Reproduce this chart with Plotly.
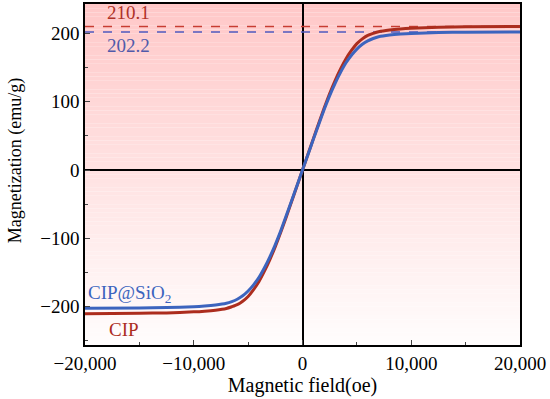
import plotly.graph_objects as go

# Field values (oe) and magnetization (emu/g)
field = [-20000, -15000, -12500, -10000, -9000, -8000, -7000, -6500, -6000, -5500, -5000,
         -4500, -4000, -3500, -3000, -2500, -2000, -1500, -1000, -500, 0,
         500, 1000, 1500, 2000, 2500, 3000, 3500, 4000, 4500, 5000,
         5500, 6000, 6500, 7000, 8000, 9000, 10000, 12500, 15000, 20000]
cip = [-210.1, -209.6, -209, -207.5, -206.5, -205, -202.5, -200, -197, -192, -185,
       -175, -163, -148, -131, -112, -91, -69, -46, -23, 0,
       23, 46, 69, 91, 112, 131, 148, 163, 175, 185,
       192, 197, 200, 202.5, 205, 206.5, 207.5, 209, 209.6, 210.1]
cip_sio2 = [-202.2, -201.8, -201.2, -200, -199, -197.5, -195, -192.5, -189, -184, -177,
            -168, -157, -143, -127, -109, -89, -67, -45, -22.5, 0,
            22.5, 45, 67, 89, 109, 127, 143, 157, 168, 177,
            184, 189, 192.5, 195, 197.5, 199, 200, 201.2, 201.8, 202.2]

ms_cip = 210.1
ms_sio2 = 202.2

x_ticks = [-20000, -10000, 0, 10000, 20000]
x_ticktext = ["\u221220,000", "\u221210,000", "0", "10,000", "20,000"]
y_ticks = [-200, -100, 0, 100, 200]
y_ticktext = ["\u2212200", "\u2212100", "0", "100", "200"]

RED = "rgb(172,45,30)"
BLUE = "rgb(60,100,190)"
FONT = "Liberation Serif"

fig = go.Figure()

# gradient background bands (pink at top fading to white)
n = 80
shapes = []
for i in range(n):
    t = (i + 0.5) / n  # 0 bottom -> 1 top
    g = int(round(253 - 53 * t))
    shapes.append(dict(type="rect", xref="x domain", yref="y domain",
                       x0=0, x1=1, y0=i / n, y1=(i + 1) / n,
                       fillcolor=f"rgb(255,{g},{g})", line=dict(width=0), layer="below"))

fig.add_trace(go.Scatter(x=[field[0], field[-1]], y=[ms_cip, ms_cip], mode="lines",
                         line=dict(color="rgb(200,60,50)", width=1.5, dash="dash"), showlegend=False))
fig.add_trace(go.Scatter(x=[field[0], field[-1]], y=[ms_sio2, ms_sio2], mode="lines",
                         line=dict(color="rgb(80,90,190)", width=1.5, dash="dash"), showlegend=False))
fig.add_trace(go.Scatter(x=field, y=cip, mode="lines", line=dict(color=RED, width=3, shape="spline", smoothing=0.6),
                         showlegend=False))
fig.add_trace(go.Scatter(x=field, y=cip_sio2, mode="lines", line=dict(color=BLUE, width=3, shape="spline", smoothing=0.6),
                         showlegend=False))

annotations = [
    dict(x=-16000, y=ms_cip + 2, text=str(ms_cip), showarrow=False, font=dict(color="rgb(175,50,40)", size=19, family=FONT),
         xanchor="center", yanchor="bottom"),
    dict(x=-16000, y=ms_sio2 - 2, text=str(ms_sio2), showarrow=False, font=dict(color="rgb(80,90,170)", size=19, family=FONT),
         xanchor="center", yanchor="top"),
    dict(x=-20000, y=-202, text="CIP@SiO<sub>2</sub>", showarrow=False, font=dict(color=BLUE, size=19, family=FONT),
         xanchor="left", yanchor="bottom", xshift=1),
    dict(x=-18000, y=-215, text="CIP", showarrow=False, font=dict(color=RED, size=19, family=FONT),
         xanchor="left", yanchor="top"),
    dict(xref="paper", yref="paper", x=-0.161, y=0.542, text="Magnetization (emu/g)", textangle=-90,
         showarrow=False, font=dict(color="black", size=18, family=FONT), xanchor="center", yanchor="middle"),
]

fig.update_layout(
    width=550, height=399,
    margin=dict(l=85, r=30, t=4, b=54),
    paper_bgcolor="white", plot_bgcolor="white",
    shapes=shapes, annotations=annotations,
    font=dict(family=FONT, size=19, color="black"),
)
fig.update_xaxes(range=[-20000, 20000], tickvals=x_ticks, ticktext=x_ticktext, ticks="inside", ticklen=5,
                 minor=dict(ticks="inside", ticklen=3, dtick=5000, tick0=0),
                 showline=True, linecolor="black", linewidth=1.5, mirror=True, showgrid=False,
                 zeroline=True, zerolinecolor="black", zerolinewidth=1.5, automargin=False,
                 title=dict(text="Magnetic field(oe)", font=dict(size=20, family=FONT), standoff=0))
fig.update_yaxes(range=[-256, 243], tickvals=y_ticks, ticktext=y_ticktext, ticks="inside", ticklen=5,
                 minor=dict(ticks="inside", ticklen=3, dtick=50, tick0=0),
                 showline=True, linecolor="black", linewidth=1.5, mirror=True, showgrid=False,
                 zeroline=True, zerolinecolor="black", zerolinewidth=1.5, automargin=False)

fig.write_html("out.html", config={"displayModeBar": False},
               post_script="document.body.style.margin='0';")
